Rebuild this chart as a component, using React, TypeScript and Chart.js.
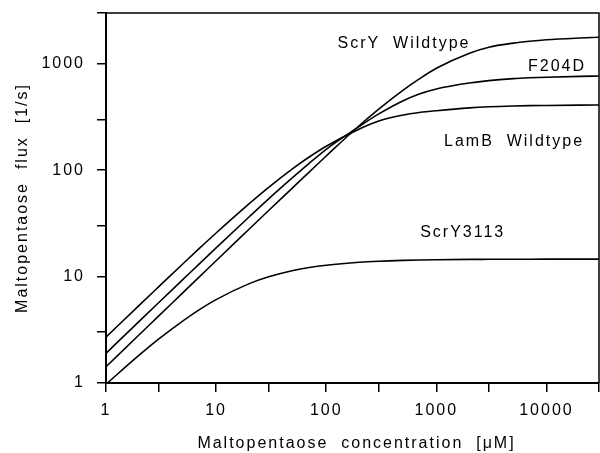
import { useEffect, useRef } from 'react';
import { Chart, registerables } from 'chart.js';

Chart.register(...registerables);

// Substrate concentration (µM)
const concentration = [1, 2, 3, 5, 7, 10, 20, 30, 50, 70, 100, 200, 300, 500, 700, 1000, 2000, 3000, 5000, 7000, 10000, 20000, 30000];

// Flux (1/s)
const scrYWildtype = [1.42, 2.84, 4.25, 7.07, 9.88, 14.1, 28.0, 41.8, 69, 96, 136, 263, 375, 565, 720, 907, 1257, 1432, 1563, 1627, 1681, 1746, 1775];
const f204D = [1.9, 3.8, 5.68, 9.4, 13.1, 18.6, 36.5, 53.8, 86, 116, 157, 258, 338, 450, 520, 580, 660, 695, 725, 738, 748, 762, 768];
const lamBWildtype = [2.7, 5.37, 8.0, 13.2, 18.3, 25.7, 48.5, 69, 104, 133, 168, 244, 290, 330, 348, 362, 385, 394, 401, 404, 406, 409, 410];
const scrY3113 = [0.973, 1.825, 2.58, 3.84, 4.87, 6.08, 8.59, 9.95, 11.4, 12.17, 12.8, 13.64, 13.95, 14.2, 14.31, 14.4, 14.5, 14.53, 14.56, 14.57, 14.58, 14.59, 14.59];

const xTicks = [1, 3, 10, 30, 100, 300, 1000, 3000, 10000, 30000];
const yTicks = [1, 3, 10, 30, 100, 300, 1000, 3000];

// Curve annotations (text, concentration, flux at baseline)
const labelTexts = ['ScrY  Wildtype', 'F204D', 'LamB  Wildtype', 'ScrY3113'];
const labelConc = [498, 12200, 4970, 1700];
const labelFlux = [1407, 856, 169, 23.4];

const xTitle = 'Maltopentaose  concentration  [μM]';
const yTitle = 'Maltopentaose  flux  [1/s]';

const FONT = '"Liberation Sans", Arial, sans-serif';
const SPACING = '2px';

const isPow10 = (v: number) => {
  const l = Math.log10(v);
  return Math.abs(l - Math.round(l)) < 1e-9;
};

const toPoints = (ys: number[]) => concentration.map((x, i) => ({ x, y: ys[i] }));

export default function App() {
  const ref = useRef<HTMLCanvasElement | null>(null);

  useEffect(() => {
    if (!ref.current) return;
    const spacingPlugin = {
      id: 'spacing',
      beforeLayout(chart: any) {
        chart.ctx.letterSpacing = SPACING;
      },
      beforeDraw(chart: any) {
        chart.ctx.letterSpacing = SPACING;
      },
      afterDraw(chart: any) {
        const ctx = chart.ctx;
        const { top, right, left, bottom } = chart.chartArea;
        const xs = chart.scales.x;
        const ys = chart.scales.y;
        ctx.save();
        ctx.letterSpacing = SPACING;
        ctx.strokeStyle = '#000';
        ctx.lineWidth = 1.5;
        ctx.beginPath();
        ctx.moveTo(left, top);
        ctx.lineTo(right, top);
        ctx.lineTo(right, bottom);
        ctx.stroke();

        ctx.fillStyle = '#000';
        ctx.font = `16px ${FONT}`;
        ctx.textAlign = 'center';
        ctx.textBaseline = 'alphabetic';
        labelTexts.forEach((t, i) => {
          ctx.fillText(t, xs.getPixelForValue(labelConc[i]) + 1, ys.getPixelForValue(labelFlux[i]));
        });

        ctx.fillText(xTitle, (left + right) / 2 + 4, 448);
        ctx.translate(27, (top + bottom) / 2);
        ctx.rotate(-Math.PI / 2);
        ctx.fillText(yTitle, 0, 0);
        ctx.restore();
      },
    };

    const mkDs = (ys: number[]) => ({
      data: toPoints(ys),
      borderColor: '#000',
      borderWidth: 1.6,
      pointRadius: 0,
      fill: false,
      cubicInterpolationMode: 'monotone' as const,
    });

    const chart = new Chart(ref.current, {
      type: 'line',
      data: {
        datasets: [mkDs(scrYWildtype), mkDs(f204D), mkDs(lamBWildtype), mkDs(scrY3113)],
      },
      options: {
        animation: false,
        responsive: true,
        maintainAspectRatio: false,
        layout: { padding: { top: 13, right: 1, left: 0, bottom: 0 } },
        plugins: { legend: { display: false }, tooltip: { enabled: false } },
        scales: {
          x: {
            type: 'logarithmic',
            min: 1,
            max: 30000,
            afterBuildTicks: (s: any) => {
              s.ticks = xTicks.map((v) => ({ value: v }));
            },
            afterFit: (s: any) => {
              s.height = 70;
              s.paddingLeft = 0;
              s.paddingRight = 0;
            },
            ticks: {
              autoSkip: false,
              maxRotation: 0,
              color: '#000',
              padding: 9,
              font: { family: FONT, size: 16 },
              callback: (v: any) => (isPow10(Number(v)) ? String(v) : ''),
            },
            grid: { drawOnChartArea: false, color: '#000', lineWidth: 1.5, tickLength: 9 },
            border: { color: '#000', width: 2 },
          },
          y: {
            type: 'logarithmic',
            min: 1,
            max: 3000,
            afterBuildTicks: (s: any) => {
              s.ticks = yTicks.map((v) => ({ value: v }));
            },
            afterFit: (s: any) => {
              s.width = 106;
              s.paddingTop = 0;
              s.paddingBottom = 0;
            },
            ticks: {
              autoSkip: false,
              color: '#000',
              padding: 12,
              font: { family: FONT, size: 16 },
              callback: (v: any) => (isPow10(Number(v)) ? String(v) : ''),
            },
            grid: { drawOnChartArea: false, color: '#000', lineWidth: 1.5, tickLength: 9 },
            border: { color: '#000', width: 2 },
          },
        },
      },
      plugins: [spacingPlugin],
    });
    return () => chart.destroy();
  }, []);

  return (
    <div style={{ position: 'absolute', left: 0, top: 0, width: 600, height: 453, background: '#fff' }}>
      <canvas ref={ref} />
    </div>
  );
}
